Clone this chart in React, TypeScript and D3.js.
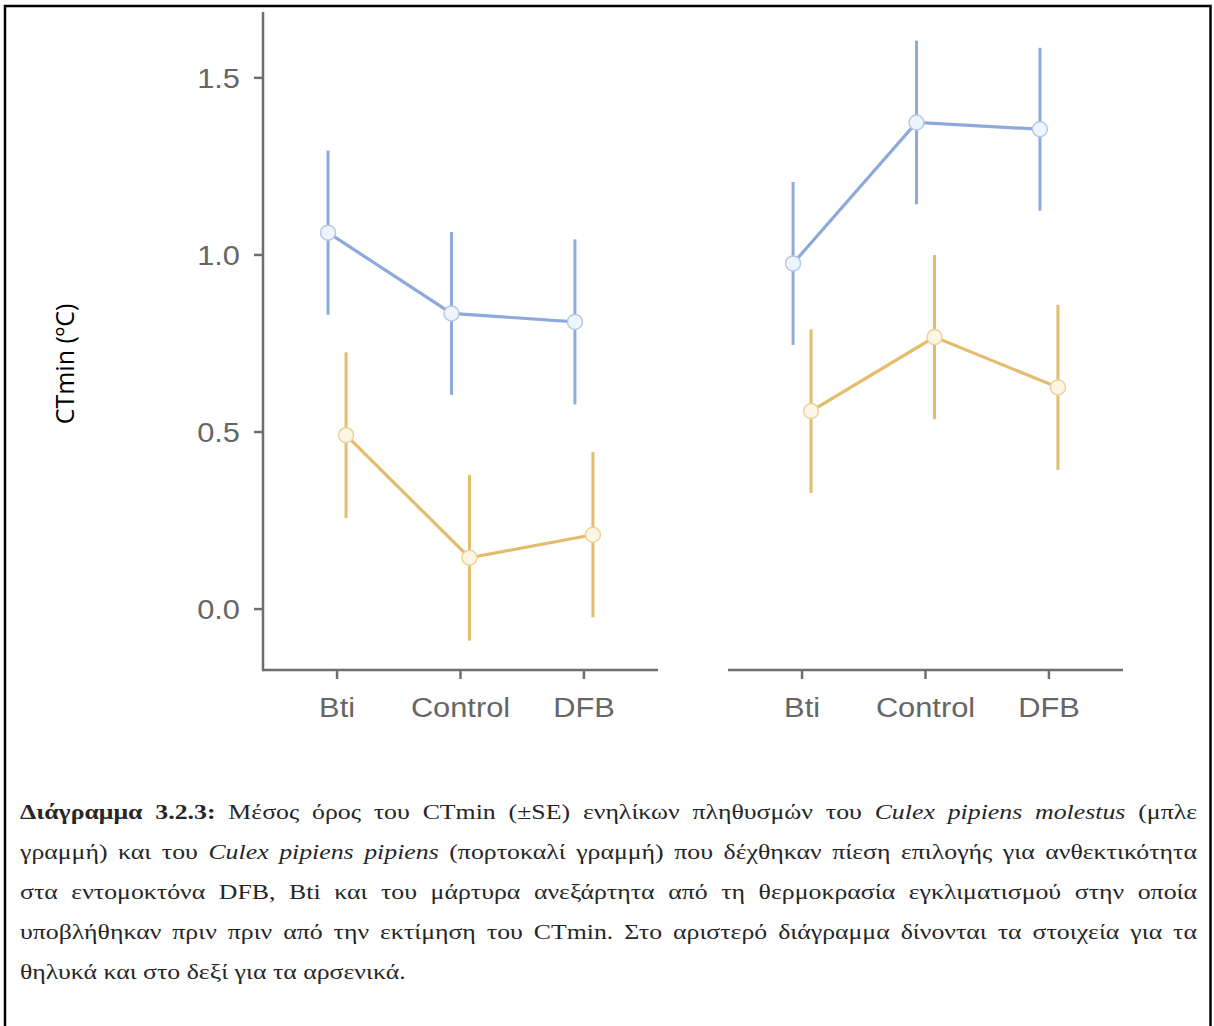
import React, { useEffect, useRef } from "react";
import * as d3 from "d3";

const categories = ["Bti", "Control", "DFB"];
const yTicks = [0, 0.5, 1.0, 1.5];

// Left panel (females)
const femaleMolestusMean = [1.063, 0.835, 0.811];
const femaleMolestusSE = [0.232, 0.23, 0.233];
const femalePipiensMean = [0.491, 0.145, 0.21];
const femalePipiensSE = [0.234, 0.234, 0.233];
// Right panel (males)
const maleMolestusMean = [0.976, 1.374, 1.355];
const maleMolestusSE = [0.23, 0.231, 0.23];
const malePipiensMean = [0.559, 0.768, 0.626];
const malePipiensSE = [0.231, 0.232, 0.233];

const yLabel = "CTmin (ºC)";

const captionLines: { t: string; s?: string }[][] = [
  [
    { t: "Διάγραμμα 3.2.3:", s: "b" },
    { t: "Μέσος όρος του CTmin (±SE) ενηλίκων πληθυσμών του" },
    { t: "Culex pipiens molestus", s: "i" },
    { t: "(μπλε" },
  ],
  [
    { t: "γραμμή) και του" },
    { t: "Culex pipiens pipiens", s: "i" },
    { t: "(πορτοκαλί γραμμή) που δέχθηκαν πίεση επιλογής για ανθεκτικότητα" },
  ],
  [{ t: "στα εντομοκτόνα DFB, Bti και του μάρτυρα ανεξάρτητα από τη θερμοκρασία εγκλιματισμού στην οποία" }],
  [{ t: "υποβλήθηκαν πριν πριν από την εκτίμηση του CTmin. Στο αριστερό διάγραμμα δίνονται τα στοιχεία για τα" }],
  [{ t: "θηλυκά και στο δεξί για τα αρσενικά." }],
];

const W = 1214;
const H = 1026;
const BLUE = "#8eaadb";
const ORANGE = "#e3bd6d";
const AXIS = "#6e6e6e";
const TEXT = "#666666";

const panelW = 395;
const panels = [
  { x0: 263, showY: true, series: [
    { mean: femaleMolestusMean, se: femaleMolestusSE, color: BLUE, fill: "#eef5fc", stroke: "#b4c8ea", dodge: -9 },
    { mean: femalePipiensMean, se: femalePipiensSE, color: ORANGE, fill: "#fdf6e6", stroke: "#ecd39c", dodge: 9 },
  ] },
  { x0: 728, showY: false, series: [
    { mean: maleMolestusMean, se: maleMolestusSE, color: BLUE, fill: "#eef5fc", stroke: "#b4c8ea", dodge: -9 },
    { mean: malePipiensMean, se: malePipiensSE, color: ORANGE, fill: "#fdf6e6", stroke: "#ecd39c", dodge: 9 },
  ] },
];

const yTop = 12;
const yBottom = 670;
const y = d3.scaleLinear().domain([-0.172, 1.686]).range([yBottom, yTop]);

const CAP_SX = 1.29;
const LBL_SX = 1.1;

export default function App() {
  const capRef = useRef<SVGGElement>(null);

  useEffect(() => {
    const g = d3.select(capRef.current);
    g.selectAll("*").remove();
    g.attr("transform", `scale(${CAP_SX},1)`);
    const left = 20 / CAP_SX;
    const right = 1197 / CAP_SX;
    const base0 = 819;
    const lh = 40;
    captionLines.forEach((line, li) => {
      const words: { w: string; s?: string }[] = [];
      line.forEach((seg) => seg.t.split(" ").filter((w) => w.length).forEach((w) => words.push({ w, s: seg.s })));
      const nodes = words.map((wd) =>
        g.append("text")
          .attr("y", base0 + li * lh)
          .attr("font-family", "'Liberation Serif', 'Times New Roman', serif")
          .attr("font-size", 20)
          .attr("fill", "#262626")
          .attr("font-weight", wd.s === "b" ? "bold" : "normal")
          .attr("font-style", wd.s === "i" ? "italic" : "normal")
          .text(wd.w)
      );
      const widths = nodes.map((n) => (n.node() as SVGTextElement).getComputedTextLength());
      const total = d3.sum(widths);
      const justified = li < captionLines.length - 1;
      const gap = justified ? (right - left - total) / (words.length - 1) : 5;
      let x = left;
      nodes.forEach((n, i) => {
        n.attr("x", x);
        x += widths[i] + gap;
      });
    });
  }, []);

  return (
    <svg width={W} height={H} style={{ position: "absolute", left: 0, top: 0, background: "#fff" }}>
      <rect x={0} y={0} width={W} height={H} fill="#fff" />
      <rect x={5} y={6} width={1205.5} height={1040} fill="none" stroke="#000" strokeWidth={2.5} />
      <text
        transform={`translate(74,364) rotate(-90)`}
        textAnchor="middle"
        fontFamily="'Open Sans', sans-serif"
        fontSize={25}
        fill="#000"
      >
        {yLabel}
      </text>
      {panels.map((p, pi) => {
        const x = d3.scalePoint<string>().domain(categories).range([p.x0, p.x0 + panelW]).padding(0.6);
        return (
          <g key={pi}>
            {p.showY && (
              <g>
                <line x1={p.x0} x2={p.x0} y1={yTop} y2={yBottom + 1.2} stroke={AXIS} strokeWidth={2.5} />
                {yTicks.map((t) => (
                  <g key={t}>
                    <line x1={p.x0 - 9} x2={p.x0} y1={y(t)} y2={y(t)} stroke={AXIS} strokeWidth={2.5} />
                    <text
                      transform={`translate(${p.x0 - 23},${y(t)}) scale(${LBL_SX},1)`}
                      dy="0.36em"
                      textAnchor="end"
                      fontFamily="'Liberation Sans', Arial, sans-serif"
                      fontSize={28}
                      fill={TEXT}
                    >
                      {d3.format(".1f")(t)}
                    </text>
                  </g>
                ))}
              </g>
            )}
            <line x1={p.x0} x2={p.x0 + panelW} y1={yBottom} y2={yBottom} stroke={AXIS} strokeWidth={2.5} />
            {categories.map((c) => (
              <g key={c}>
                <line x1={x(c)} x2={x(c)} y1={yBottom} y2={yBottom + 9} stroke={AXIS} strokeWidth={2.5} />
                <text
                  transform={`translate(${x(c)},717) scale(${LBL_SX},1)`}
                  textAnchor="middle"
                  fontFamily="'Liberation Sans', Arial, sans-serif"
                  fontSize={28}
                  fill={TEXT}
                >
                  {c}
                </text>
              </g>
            ))}
            {p.series.map((s, si) => {
              const pts = categories.map((c, i) => [(x(c) as number) + s.dodge, y(s.mean[i])] as [number, number]);
              const line = d3.line()(pts) as string;
              return (
                <g key={si}>
                  {categories.map((c, i) => (
                    <line
                      key={c}
                      x1={(x(c) as number) + s.dodge}
                      x2={(x(c) as number) + s.dodge}
                      y1={y(s.mean[i] - s.se[i])}
                      y2={y(s.mean[i] + s.se[i])}
                      stroke={s.color}
                      strokeWidth={3}
                    />
                  ))}
                  <path d={line} fill="none" stroke={s.color} strokeWidth={3.2} />
                  {categories.map((c, i) => (
                    <circle
                      key={c}
                      cx={(x(c) as number) + s.dodge}
                      cy={y(s.mean[i])}
                      r={7.5}
                      fill={s.fill}
                      stroke={s.stroke}
                      strokeWidth={1.5}
                    />
                  ))}
                </g>
              );
            })}
          </g>
        );
      })}
      <g ref={capRef} />
    </svg>
  );
}
